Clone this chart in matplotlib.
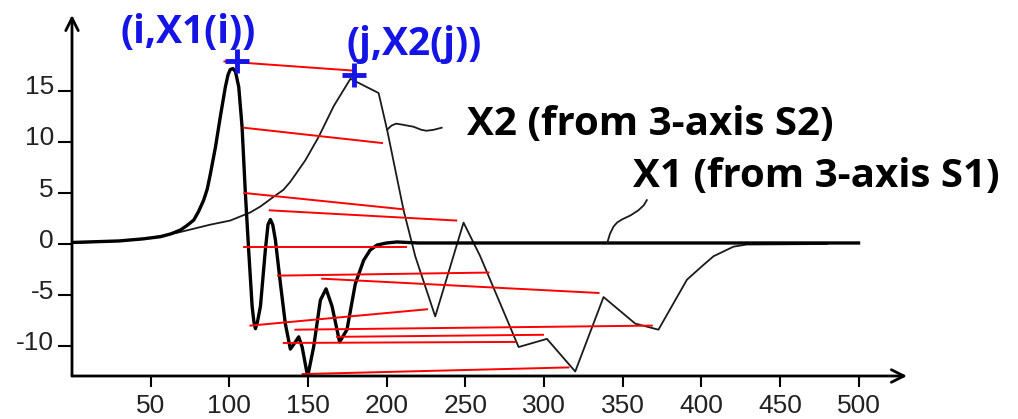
import numpy as np
import matplotlib
matplotlib.use('Agg')
import matplotlib.pyplot as plt
from matplotlib.transforms import ScaledTranslation

plt.rcParams['axes.unicode_minus'] = False

# X1 (thick curve, from 3-axis S1)
x1_t = [0, 30, 45, 56.3, 63, 68.9, 73, 77.4, 80.5, 83.7, 86, 88.0, 91.2, 94.3, 97.5,
        99.2, 100.6, 102.3, 103.9, 106, 108.1, 110.2, 112.3, 114.5, 115.6, 116.6,
        117.8, 119.8, 122.9, 124.6, 126.1, 127.6, 129.3, 132.5, 135.6, 138.8, 142,
        144.1, 146.3, 149.8, 153.6, 157.9, 161.5, 165.3, 170.1, 174.8, 180.1, 185.4,
        189.5, 193.9, 200, 206.6, 220, 500]
x1_v = [0.15, 0.3, 0.5, 0.72, 1.0, 1.37, 1.8, 2.35, 3.2, 4.3, 5.4, 6.9, 9.5, 12.5, 15.4,
        16.6, 17.1, 17.2, 16.9, 15.4, 11.5, 5.0, -0.6, -6.1, -7.6, -8.3,
        -7.7, -6.1, -0.6, 1.9, 2.4, 1.9, 0.4, -3.9, -7.8, -10.3, -9.6,
        -9.1, -10.1, -13.0, -10.1, -5.5, -4.4, -6.1, -9.6, -8.4, -3.9, -1.6,
        -0.6, -0.1, 0.1, 0.2, 0.1, 0.1]

# X2 (thin curve, from 3-axis S2)
x2_t = [0, 30, 50, 66.8, 88, 100.6, 113.4, 120, 127, 134.3, 138.8, 148.3, 156.8,
        166.3, 177, 194.9, 200.3, 210.8, 218.2, 230.9, 248.9, 259.5, 283.9, 301.9,
        319.9, 337.9, 358, 372.8, 390.9, 400.3, 407.8, 420.5, 428.9, 480]
x2_v = [0.1, 0.3, 0.6, 1.1, 1.9, 2.3, 3.1, 3.7, 4.5, 5.3, 6.1, 8.2, 10.5,
        13.5, 16.2, 14.8, 11.2, 3.3, -1.2, -7.1, 2.1, -1.2, -10.1, -9.3,
        -12.5, -5.2, -7.8, -8.4, -3.5, -2.2, -1.2, -0.26, -0.05, 0.0]

# red matching lines: (i, X1(i)) -> (j, X2(j))
match_i = [96.9, 109.2, 109.6, 125.7, 109.2, 131.0, 159.0, 113.4, 142.0, 168.5, 134.6, 146.6]
match_xi = [17.9, 11.4, 5.0, 3.3, -0.26, -3.1, -3.4, -8.0, -8.4, -9.1, -9.7, -12.75]
match_j = [178.8, 197.1, 210.8, 244.3, 212.5, 264.8, 334.7, 225.7, 368.6, 299.4, 281.8, 315.6]
match_xj = [17.0, 9.9, 3.4, 2.3, -0.26, -2.8, -4.8, -6.4, -8.0, -8.9, -9.6, -12.1]

# the two marked points
mark_t = [104.8, 179.1]
mark_v = [17.9, 16.6]

# leader lines from labels to curves
lead2_t = [200.3, 203, 206, 210, 217, 222, 225.4, 230, 235]
lead2_v = [11.2, 11.6, 11.8, 11.7, 11.5, 11.2, 11.1, 11.2, 11.4]
lead1_t = [340.2, 342, 344.2, 346.5, 349.5, 355, 360, 363.5, 365.4]
lead1_v = [0.1, 1.0, 1.7, 2.1, 2.4, 2.8, 3.3, 3.8, 4.3]

xticks = [50, 100, 150, 200, 250, 300, 350, 400, 450, 500]
yticks = [-10, -5, 0, 5, 10, 15]

fig = plt.figure(figsize=(10.18, 4.19), dpi=100)
ax = fig.add_axes([72 / 1018, 43 / 419, 835 / 1018, 361 / 419])
ax.set_xlim(0, 530.8)
ax.set_ylim(-12.94, 22.45)
for s in ax.spines.values():
    s.set_visible(False)

# axes drawn as arrows
for tip in [(1, 0), (0, 1)]:
    ax.annotate('', xy=tip, xytext=(0, 0), xycoords='axes fraction',
                arrowprops=dict(arrowstyle='->,head_length=0.9,head_width=0.45', lw=2,
                                color='black', shrinkA=0, shrinkB=0))

ax.plot(x2_t, x2_v, color='#1a1a1a', lw=1.3)
ax.plot(x1_t, x1_v, color='black', lw=2.4, solid_joinstyle='round')
ax.plot(lead2_t, lead2_v, color='#1a1a1a', lw=1.3)
ax.plot(lead1_t, lead1_v, color='#1a1a1a', lw=1.3)

for a, b, c, d in zip(match_i, match_xi, match_j, match_xj):
    ax.plot([a, c], [b, d], color='red', lw=1.4)

ax.plot(mark_t, mark_v, ls='none', marker='+', ms=17, mew=3.5, color='#1414e6')

ax.set_xticks(xticks)
ax.set_yticks(yticks)
ax.tick_params(axis='x', direction='out', length=8, width=1.5, pad=5,
               labelsize=19, labelcolor='#222222')
ax.tick_params(axis='y', direction='out', length=10, width=1.5, pad=3,
               labelsize=19, labelcolor='#222222')
for lab in ax.get_xticklabels() + ax.get_yticklabels():
    lab.set_family('Liberation Sans')
# y labels sit a little above their tick marks in the original
for lab in ax.get_yticklabels():
    lab.set_transform(lab.get_transform() + ScaledTranslation(0, 0.06, fig.dpi_scale_trans))

# labels
ax.text(30.9, 19.7, '(i,X1(i))', color='#1414e6', fontsize=28, fontweight='bold',
        family='Open Sans', va='baseline', ha='left')
ax.text(174.8, 18.5, '(j,X2(j))', color='#1414e6', fontsize=28, fontweight='bold',
        family='Open Sans', va='baseline', ha='left')
ax.text(251.3, 10.7, 'X2 (from 3-axis S2)', color='black', fontsize=29, fontweight='bold',
        family='Open Sans', va='baseline', ha='left')
ax.text(356.8, 5.6, 'X1 (from 3-axis S1)', color='black', fontsize=29, fontweight='bold',
        family='Open Sans', va='baseline', ha='left')

fig.savefig('out.png', dpi=100)
